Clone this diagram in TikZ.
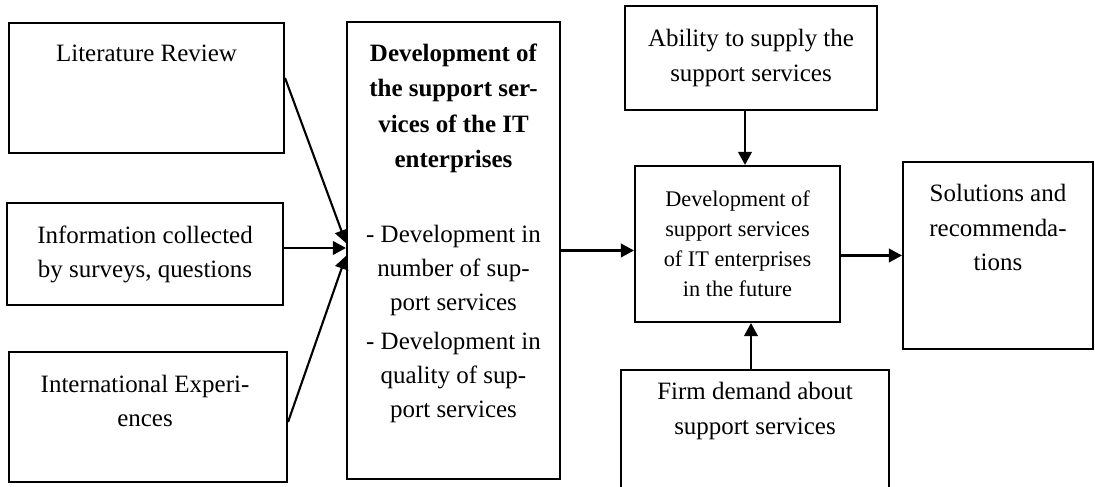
\documentclass[tikz,border=0pt]{standalone}
\usepackage{fontspec}
\setmainfont{Liberation Serif}
\usetikzlibrary{positioning}
\usetikzlibrary{arrows.meta}

\begin{document}
\begin{tikzpicture}[line width=1.2pt,
    box/.style={draw, rectangle, inner sep=0pt},
    txt/.style={align=center, inner sep=0pt, font=\fontsize{14.2}{19.4}\selectfont},
    arr/.style={-{Triangle[length=0.26cm,width=0.27cm]}}]
    \useasboundingbox (0,0) rectangle (21.9,9.74);

    % draw boxes on the left
    \node[box, minimum width=5.5cm, minimum height=2.6cm] (lit) at (2.93,7.98) {};
    \node[box, txt, minimum width=5.52cm, minimum height=2.04cm] (info) at (2.90,4.66) {Information collected\\by surveys, questions};
    \node[box, minimum width=5.56cm, minimum height=2.6cm] (intl) at (2.96,1.40) {};

    % draw middle box
    \node[box, minimum width=4.26cm, minimum height=9.14cm] (mid) at (9.07,4.73) {};

    % draw boxes on the right
    \node[box, txt, minimum width=5.04cm, minimum height=2.08cm] (abil) at (15.02,8.58) {Ability to supply the\\support services};
    \node[box, txt, font=\fontsize{12.7}{17.1}\selectfont, minimum width=4.1cm, minimum height=3.12cm] (fut) at (14.75,4.86) {Development of\\support services\\of IT enterprises\\in the future};
    \node[box, minimum width=3.8cm, minimum height=3.74cm] (sol) at (19.96,4.63) {};
    \node[box, minimum width=5.36cm, minimum height=2.6cm] (firm) at (15.10,1.04) {};

    % draw texts
    \node[txt] (litT) at (2.93,8.68) {Literature Review};
    \node[txt] (intlT) at (2.90,1.72) {International Experi-\\ences};
    \node[txt, font=\fontsize{14.2}{20.2}\selectfont\bfseries] (midA) at (9.07,7.57) {Development of\\the support ser-\\vices of the IT\\enterprises};
    \node[txt] (midB) at (9.07,3.26) {- Development in\\number of sup-\\port services\\[0.08cm]- Development in\\quality of sup-\\port services};
    \node[txt] (solT) at (19.96,5.19) {Solutions and\\recommenda-\\tions};
    \node[txt] (firmT) at (15.10,1.52) {Firm demand about\\support services};

    % draw arrows
    \draw[arr] ([yshift=0.2cm]lit.east) -- ([yshift=0.15cm]mid.west);
    \draw[arr] ([yshift=0.12cm]info.east) -- ([yshift=0.12cm]info.east -| mid.west);
    \draw[arr] ([yshift=-0.1cm]intl.east) -- ([yshift=-0.11cm]mid.west);
    \draw[arr] (mid.east) -- (mid.east -| fut.west);
    \draw[arr] ([xshift=-0.12cm]abil.south) -- ([xshift=-0.12cm]abil.south |- fut.north);
    \draw[arr] ([xshift=-0.08cm]firm.north) -- ([xshift=-0.08cm]firm.north |- fut.south);
    \draw[arr] (sol.west -| fut.east) -- (sol.west);
\end{tikzpicture}
\end{document}
